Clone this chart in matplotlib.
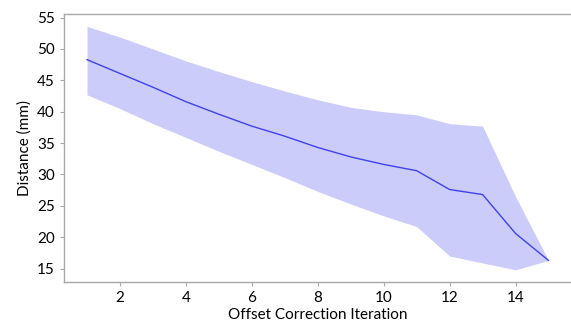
import matplotlib
matplotlib.use("Agg")
import matplotlib.pyplot as plt

iterations = list(range(1, 16))
mean_dist = [48.3, 46.1, 43.9, 41.6, 39.6, 37.7, 36.1, 34.3, 32.8, 31.6, 30.6, 27.6, 26.8, 20.6, 16.3]
upper_dist = [53.6, 51.9, 50.0, 48.1, 46.4, 44.8, 43.3, 41.9, 40.7, 40.0, 39.5, 38.1, 37.7, 26.5, 16.3]
lower_dist = [42.7, 40.5, 38.1, 35.9, 33.7, 31.6, 29.5, 27.3, 25.3, 23.4, 21.7, 17.0, 15.9, 14.8, 16.3]
x_ticks = [2, 4, 6, 8, 10, 12, 14]
y_ticks = [15, 20, 25, 30, 35, 40, 45, 50, 55]

plt.rcParams['font.family'] = ['Lato', 'DejaVu Sans']

fig = plt.figure(figsize=(5.71, 3.22), dpi=100)
ax = fig.add_axes([0.112, 0.125, 0.889, 0.832])
ax.fill_between(iterations, lower_dist, upper_dist, color=(0.80, 0.80, 0.98), linewidth=0)
ax.plot(iterations, mean_dist, color=(0.25, 0.25, 0.92), linewidth=1.0)
ax.set_xlim(0.3, 15.7)
ax.set_ylim(12.9, 55.6)
ax.set_xticks(x_ticks)
ax.set_yticks(y_ticks)
for s in ax.spines.values():
    s.set_color('#a8a8a8')
    s.set_linewidth(1.0)
ax.spines['right'].set_visible(False)
ax.tick_params(colors='#a8a8a8', labelcolor='black', labelsize=11, length=3, width=0.8)
ax.set_xlabel('Offset Correction Iteration', fontsize=11, labelpad=2)
ax.set_ylabel('Distance (mm)', fontsize=11, labelpad=4)
fig.savefig('out.png', dpi=100)
